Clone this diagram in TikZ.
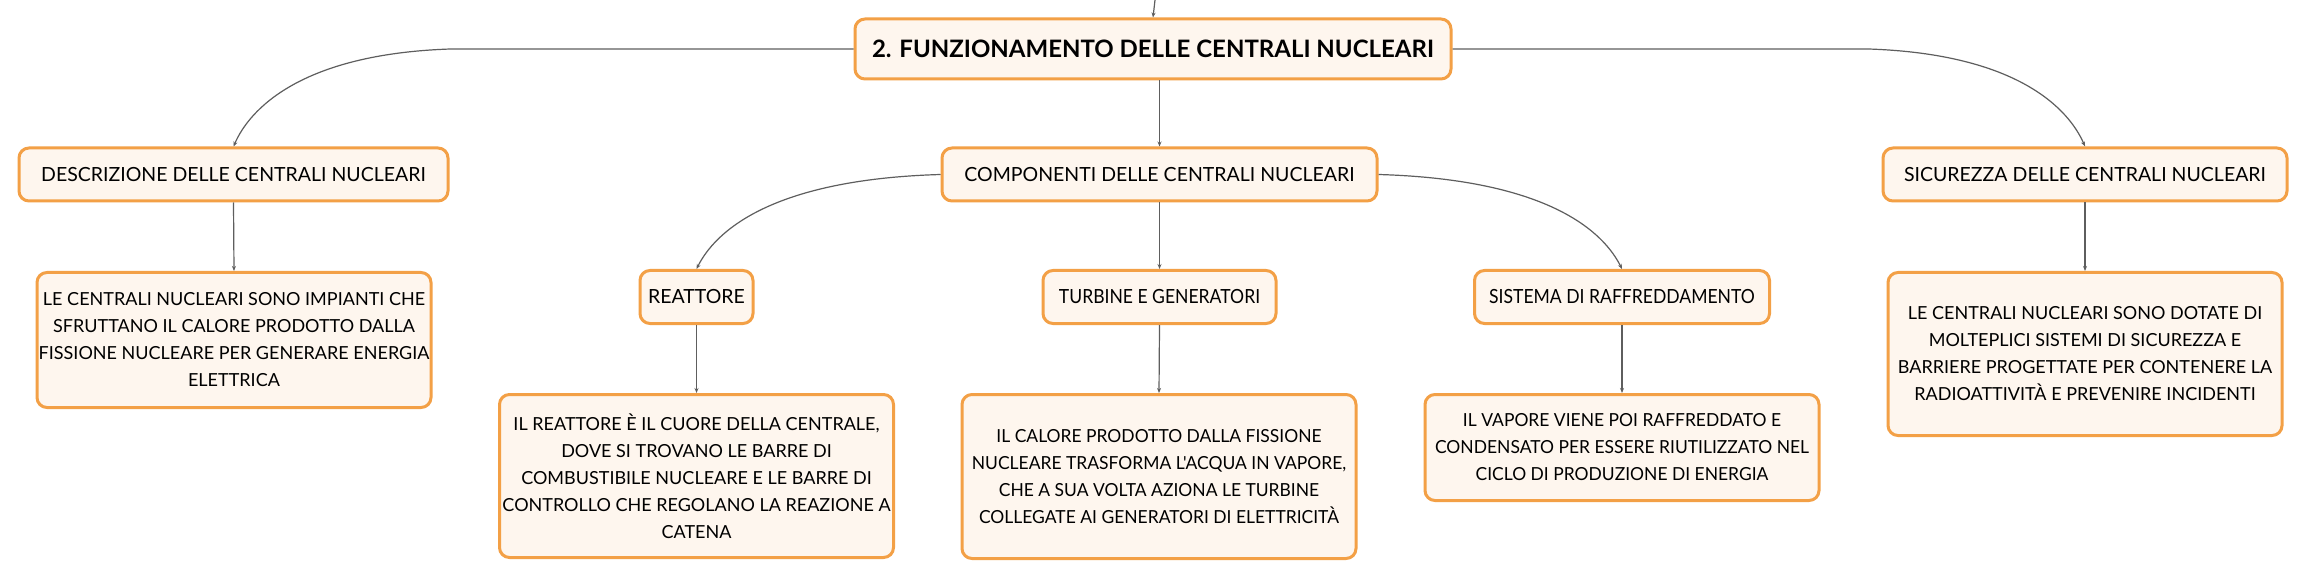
\documentclass[tikz,border=0pt]{standalone}
\usepackage{fontspec}
\setmainfont{Lato}
\newfontfamily\etroite{Lato}[FakeStretch=0.9]
\newfontfamily\etroiteT{Lato}[FakeStretch=0.97]
\usetikzlibrary{arrows.meta}
\definecolor{orangebord}{HTML}{F3A046}
\definecolor{fondcreme}{HTML}{FEF6EE}
\definecolor{trait}{HTML}{5E5E5E}

\begin{document}
\begin{tikzpicture}[x=1pt,y=-1pt]
		\tikzstyle{fleche}=[-{Stealth[length=5pt,width=4pt]},draw=trait,line width=1.2pt]
		\tikzstyle{boite}=[draw=orangebord,fill=fondcreme,line width=3pt,rounded corners=10pt,inner sep=0pt,align=center,text=black]
		\tikzstyle{racine}=[boite,minimum height=60pt,font=\fontsize{24}{28}\selectfont\bfseries]
		\tikzstyle{titre}=[boite,minimum height=53pt,font=\fontsize{19.5}{24}\selectfont]
		\tikzstyle{titreE}=[titre,font=\etroite\fontsize{19.5}{24}\selectfont]
		\tikzstyle{texte}=[boite,anchor=north,minimum width=394pt,font=\fontsize{18}{27}\selectfont]
		\tikzstyle{texteE}=[texte,font=\etroiteT\fontsize{18}{27}\selectfont]
		
		\def\NiveauA{49}
		\def\NiveauB{174.5}
		\def\NiveauC{297}
		\def\HautB{271}
		\def\HautC{393}
		
		\useasboundingbox[fill=white] (0,0) rectangle (2307,577);
		
		\coordinate (haut) at (1155,0);
		\node[racine,minimum width=596pt] (R) at (1153,\NiveauA) {2. FUNZIONAMENTO DELLE CENTRALI NUCLEARI};
		\node[titre,minimum width=429pt] (Ra) at (233.5,\NiveauB) {DESCRIZIONE DELLE CENTRALI NUCLEARI};
		\node[texte,minimum height=135pt] (Raa) at (234,\HautB) {LE CENTRALI NUCLEARI SONO IMPIANTI CHE\\SFRUTTANO IL CALORE PRODOTTO DALLA\\FISSIONE NUCLEARE PER GENERARE ENERGIA\\ELETTRICA};
		\node[titre,minimum width=435pt] (Rb) at (1159.5,\NiveauB) {COMPONENTI DELLE CENTRALI NUCLEARI};
		\node[titre,minimum width=113pt] (Rba) at (696.5,\NiveauC) {REATTORE};
		\node[texte,minimum height=163pt] (Rbaa) at (696.5,\HautC) {IL REATTORE È IL CUORE DELLA CENTRALE,\\DOVE SI TROVANO LE BARRE DI\\COMBUSTIBILE NUCLEARE E LE BARRE DI\\CONTROLLO CHE REGOLANO LA REAZIONE A\\CATENA};
		\node[titreE,minimum width=233pt] (Rbb) at (1159.5,\NiveauC) {TURBINE E GENERATORI};
		\node[texteE,minimum height=164pt] (Rbba) at (1159,\HautC) {IL CALORE PRODOTTO DALLA FISSIONE\\NUCLEARE TRASFORMA L'ACQUA IN VAPORE,\\CHE A SUA VOLTA AZIONA LE TURBINE\\COLLEGATE AI GENERATORI DI ELETTRICITÀ};
		\node[titreE,minimum width=295pt] (Rbc) at (1622,\NiveauC) {SISTEMA DI RAFFREDDAMENTO};
		\node[texteE,minimum height=106pt] (Rbca) at (1622,\HautC) {IL VAPORE VIENE POI RAFFREDDATO E\\CONDENSATO PER ESSERE RIUTILIZZATO NEL\\CICLO DI PRODUZIONE DI ENERGIA};
		\node[titre,minimum width=404pt] (Rc) at (2085,\NiveauB) {SICUREZZA DELLE CENTRALI NUCLEARI};
		\node[texte,minimum height=163pt] (Rca) at (2085,\HautB) {LE CENTRALI NUCLEARI SONO DOTATE DI\\MOLTEPLICI SISTEMI DI SICUREZZA E\\BARRIERE PROGETTATE PER CONTENERE LA\\RADIOATTIVITÀ E PREVENIRE INCIDENTI};
		
		\draw[fleche] (haut)--(R.north);
		\draw[fleche] (R.west)--++(-403,0) .. controls +(-150,5) and +(16,-37) .. (Ra.north);
		\draw[fleche] (R.east)--++(416,0) .. controls +(150,5) and +(-16,-37) .. (Rc.north);
		\draw[fleche] (Rb.north |- R.south)--(Rb.north);
		\draw[fleche] (Ra.south)--(Raa.north);
		\draw[fleche] (Rc.south)--(Rca.north);
		\draw[fleche] (Rb.west) .. controls +(-172,5) and +(18,-36) .. (Rba.north);
		\draw[fleche] (Rb.south)--(Rbb.north);
		\draw[fleche] (Rb.east) .. controls +(172,5) and +(-18,-36) .. (Rbc.north);
		\draw[fleche] (Rba.south)--(Rbaa.north);
		\draw[fleche] (Rbb.south)--(Rbba.north);
		\draw[fleche] (Rbc.south)--(Rbca.north);
\end{tikzpicture}
\end{document}
